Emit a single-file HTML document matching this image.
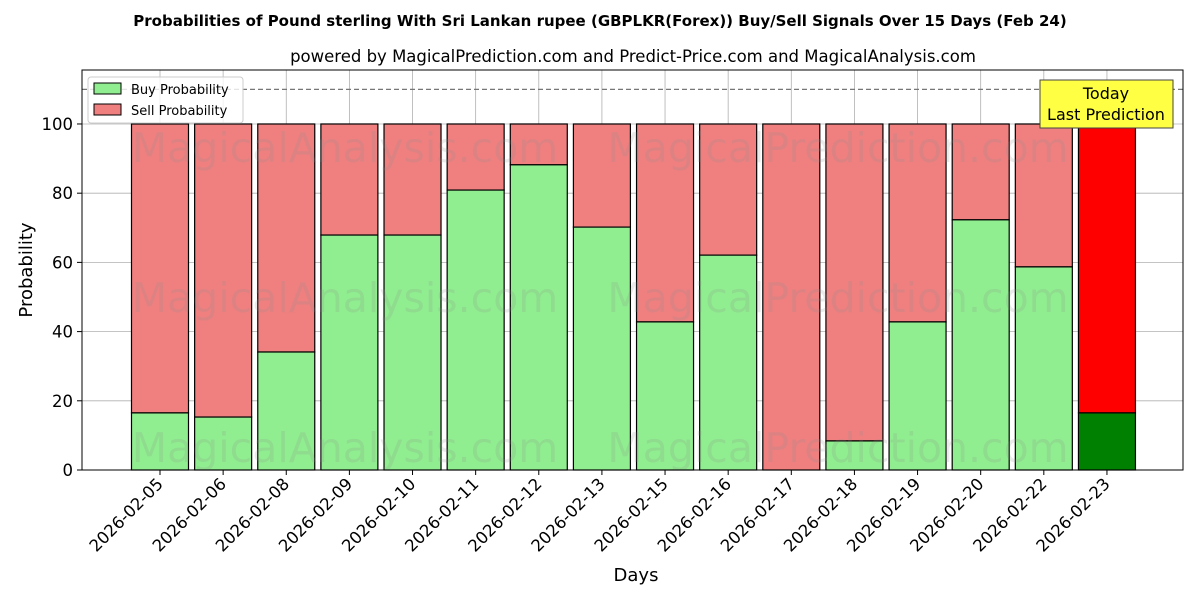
<!DOCTYPE html>
<html><head><meta charset="utf-8"><style>
html,body{margin:0;padding:0;background:#fff;}
svg{display:block;font-family:"DejaVu Sans","Liberation Sans",sans-serif;}
</style></head><body>
<svg id="chart" width="1200" height="600" xmlns="http://www.w3.org/2000/svg">
<text x="600" y="26" text-anchor="middle" font-size="15" font-weight="bold">Probabilities of Pound sterling With Sri Lankan rupee (GBPLKR(Forex)) Buy/Sell Signals Over 15 Days (Feb 24)</text>
<text x="633" y="62" text-anchor="middle" font-size="16.5">powered by MagicalPrediction.com and Predict-Price.com and MagicalAnalysis.com</text>
<g id="grid"></g>
<g id="bars"></g>
<g fill="#888" fill-opacity="0.18" font-size="41">
<text x="345" y="162" text-anchor="middle">MagicalAnalysis.com</text>
<text x="838" y="162" text-anchor="middle">MagicalPrediction.com</text>
<text x="345" y="312" text-anchor="middle">MagicalAnalysis.com</text>
<text x="838" y="312" text-anchor="middle">MagicalPrediction.com</text>
<text x="345" y="462" text-anchor="middle">MagicalAnalysis.com</text>
<text x="838" y="462" text-anchor="middle">MagicalPrediction.com</text>
</g>
<g id="axes"></g>
<g>
<rect x="88" y="77" width="155" height="46" fill="#fff" fill-opacity="0.8" stroke="#ccc" rx="3"/>
<rect x="94" y="83" width="27" height="11" fill="lightgreen" stroke="#000"/>
<text x="131" y="94" font-size="13">Buy Probability</text>
<rect x="94" y="104" width="27" height="11" fill="lightcoral" stroke="#000"/>
<text x="131" y="115" font-size="13">Sell Probability</text>
</g>
<g>
<rect x="1040" y="80" width="133" height="48" fill="#ffff44" stroke="#444"/>
<text x="1106" y="99" text-anchor="middle" font-size="16">Today</text>
<text x="1106" y="120" text-anchor="middle" font-size="16">Last Prediction</text>
</g>
<text x="636" y="581" text-anchor="middle" font-size="18">Days</text>
<text transform="translate(32,270) rotate(-90)" text-anchor="middle" font-size="18">Probability</text>
</svg>
<script>
const categories = ["2026-02-05","2026-02-06","2026-02-08","2026-02-09","2026-02-10","2026-02-11","2026-02-12","2026-02-13","2026-02-15","2026-02-16","2026-02-17","2026-02-18","2026-02-19","2026-02-20","2026-02-22","2026-02-23"];
const buy = [16.5,15.3,34.1,67.9,67.9,80.9,88.2,70.2,42.8,62.1,0,8.4,42.8,72.3,58.7,16.5];
const yTicks = [0,20,40,60,80,100];
const thresholdValue = 110;

const NS="http://www.w3.org/2000/svg";
const L=82,R=1183,T=70,B=470;
const yMax=115.6;
const y=v=>B-(v/yMax)*(B-T);
const step=63.13, x0=160;
const x=i=>x0+i*step;
const bw=57;
function mk(tag,attrs,parent){const e=document.createElementNS(NS,tag);for(const k in attrs)e.setAttribute(k,attrs[k]);parent.appendChild(e);return e;}
const grid=document.getElementById('grid'),bars=document.getElementById('bars'),axes=document.getElementById('axes');
yTicks.forEach(t=>{
  const g=mk('line',{x1:L,x2:R,y1:y(t),y2:y(t),stroke:'#b0b0b0','stroke-width':0.8},grid);
  
  
  const tk=mk('line',{x1:L-5,x2:L,y1:y(t),y2:y(t),stroke:'#000'},axes);
  
  
  const tx=mk('text',{x:L-9,y:y(t)+6,'text-anchor':'end','font-size':16.5},axes);
  tx.textContent=t;
  
  
});
categories.forEach((c,i)=>{
  const gl=mk('line',{x1:x(i),x2:x(i),y1:T,y2:B,stroke:'#b0b0b0','stroke-width':0.8},grid);
  
  
  const last=i===categories.length-1;
  const s=mk('rect',{x:x(i)-bw/2,y:y(100),width:bw,height:y(buy[i])-y(100),fill:last?'red':'lightcoral',stroke:'#000','stroke-width':1.2},bars);
  
  
  const b=mk('rect',{x:x(i)-bw/2,y:y(buy[i]),width:bw,height:B-y(buy[i]),fill:last?'green':'lightgreen',stroke:'#000','stroke-width':1.2},bars);
  
  
  const tk=mk('line',{x1:x(i),x2:x(i),y1:B,y2:B+5,stroke:'#000'},axes);
  
  
  const tx=mk('text',{x:x(i)+4,y:B+15,'text-anchor':'end','font-size':16.5,transform:`rotate(-45 ${x(i)+4} ${B+15})`},axes);
  tx.textContent=c;
  
  
});
const th=mk('line',{x1:L,x2:R,y1:y(thresholdValue),y2:y(thresholdValue),stroke:'#777','stroke-width':1.2,'stroke-dasharray':'5,3'},bars);


const fr=mk('rect',{x:L,y:T,width:R-L,height:B-T,fill:'none',stroke:'#000','stroke-width':1},axes);


</script>
</body></html>
